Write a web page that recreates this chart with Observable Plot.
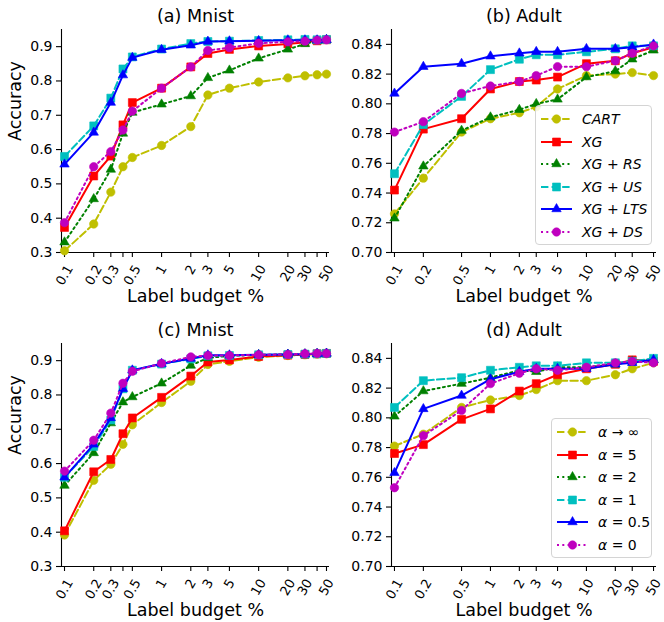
<!DOCTYPE html>
<html><head><meta charset="utf-8">
<script src="https://cdn.jsdelivr.net/npm/d3@7"></script>
<script src="https://cdn.jsdelivr.net/npm/@observablehq/plot@0.6"></script>
<style>
body{margin:0;background:#fff;}
#root{position:relative;width:664px;height:622px;overflow:hidden;font-family:"DejaVu Sans",sans-serif;background:#fff;}
.panel{position:absolute;}
.legend{position:absolute;border:1px solid #d4d4d4;border-radius:4px;background:rgba(255,255,255,0.85);box-sizing:border-box;}
.legend .row{position:absolute;left:0;height:22px;width:100%;}
.legend .row svg{position:absolute;left:4px;top:0;}
.legend .row span.lab{position:absolute;left:46px;top:2px;font-size:14px;line-height:18px;white-space:nowrap;color:#000;}
</style></head><body><div id="root"></div>
<script>
// ---------- data ----------
const budgetsMnist = [0.1, 0.2, 0.3, 0.4, 0.5, 1, 2, 3, 5, 10, 20, 30, 40, 50];
const budgetsAdult = [0.1, 0.2, 0.5, 1, 2, 3, 5, 10, 20, 30, 50];
const tickLabelsMnist = ["0.1", "0.2", "0.3", "", "0.5", "1", "2", "3", "5", "10", "20", "30", "", "50"];
const tickLabelsAdult = ["0.1", "0.2", "0.5", "1", "2", "3", "5", "10", "20", "30", "50"];
const yTicksMnist = [0.3, 0.4, 0.5, 0.6, 0.7, 0.8, 0.9];
const yTicksAdult = [0.70, 0.72, 0.74, 0.76, 0.78, 0.80, 0.82, 0.84];

const methodLabels = ["CART", "XG", "XG + RS", "XG + US", "XG + LTS", "XG + DS"];
const alphaLabels = ["α → ∞", "α = 5", "α = 2", "α = 1", "α = 0.5", "α = 0"];

// (a) Mnist, methods: CART, XG, XG+RS, XG+US, XG+LTS, XG+DS
const mnistMethods = [
  [0.305, 0.383, 0.476, 0.550, 0.577, 0.612, 0.667, 0.759, 0.779, 0.797, 0.809, 0.815, 0.818, 0.820],
  [0.373, 0.523, 0.581, 0.672, 0.737, 0.779, 0.841, 0.880, 0.892, 0.902, 0.908, 0.913, 0.917, 0.920],
  [0.330, 0.456, 0.542, 0.647, 0.708, 0.732, 0.756, 0.809, 0.831, 0.866, 0.892, 0.908, 0.917, 0.920],
  [0.580, 0.669, 0.750, 0.835, 0.870, 0.893, 0.909, 0.915, 0.916, 0.918, 0.920, 0.921, 0.920, 0.921],
  [0.557, 0.650, 0.737, 0.817, 0.868, 0.891, 0.904, 0.915, 0.916, 0.917, 0.919, 0.919, 0.919, 0.920],
  [0.387, 0.550, 0.594, 0.657, 0.712, 0.779, 0.841, 0.889, 0.897, 0.910, 0.914, 0.916, 0.919, 0.920]
];
// (b) Adult, methods
const adultMethods = [
  [0.726, 0.750, 0.781, 0.790, 0.794, 0.798, 0.810, 0.819, 0.820, 0.821, 0.819],
  [0.742, 0.783, 0.790, 0.810, 0.815, 0.816, 0.818, 0.827, 0.829, 0.834, 0.838],
  [0.723, 0.758, 0.782, 0.791, 0.796, 0.800, 0.803, 0.818, 0.822, 0.830, 0.836],
  [0.753, 0.786, 0.805, 0.823, 0.830, 0.833, 0.833, 0.835, 0.837, 0.839, 0.839],
  [0.807, 0.825, 0.827, 0.832, 0.834, 0.835, 0.835, 0.837, 0.837, 0.838, 0.840],
  [0.781, 0.788, 0.807, 0.812, 0.815, 0.819, 0.825, 0.825, 0.829, 0.834, 0.839]
];
// (c) Mnist, alpha: inf, 5, 2, 1, 0.5, 0
const mnistAlpha = [
  [0.392, 0.551, 0.598, 0.656, 0.713, 0.778, 0.840, 0.889, 0.898, 0.910, 0.915, 0.917, 0.919, 0.920],
  [0.404, 0.576, 0.612, 0.687, 0.733, 0.793, 0.855, 0.896, 0.902, 0.912, 0.916, 0.918, 0.920, 0.921],
  [0.536, 0.631, 0.718, 0.779, 0.794, 0.834, 0.886, 0.908, 0.914, 0.917, 0.918, 0.919, 0.920, 0.921],
  [0.560, 0.650, 0.727, 0.818, 0.872, 0.890, 0.905, 0.914, 0.915, 0.917, 0.918, 0.919, 0.920, 0.921],
  [0.560, 0.656, 0.733, 0.818, 0.872, 0.891, 0.906, 0.916, 0.916, 0.917, 0.918, 0.919, 0.920, 0.921],
  [0.578, 0.668, 0.747, 0.834, 0.869, 0.892, 0.911, 0.915, 0.915, 0.917, 0.918, 0.920, 0.921, 0.921]
];
// (d) Adult, alpha
const adultAlpha = [
  [0.781, 0.789, 0.807, 0.812, 0.815, 0.819, 0.825, 0.825, 0.829, 0.833, 0.837],
  [0.776, 0.782, 0.799, 0.806, 0.818, 0.823, 0.829, 0.833, 0.836, 0.839, 0.838],
  [0.801, 0.818, 0.823, 0.827, 0.832, 0.831, 0.834, 0.834, 0.836, 0.838, 0.839],
  [0.807, 0.825, 0.827, 0.832, 0.834, 0.835, 0.835, 0.837, 0.837, 0.838, 0.840],
  [0.763, 0.806, 0.815, 0.826, 0.831, 0.833, 0.833, 0.833, 0.836, 0.837, 0.839],
  [0.753, 0.788, 0.805, 0.823, 0.830, 0.833, 0.832, 0.834, 0.837, 0.838, 0.837]
];

// ---------- styles ----------
const seriesColors = ["#bfbf00", "#ff0000", "#008000", "#00bfbf", "#0000ff", "#bf00bf"];
const seriesDash = ["7.4,3.2", null, "2,3.3", "7.4,3.2", null, "2,3.3"];
const seriesSymbols = ["circle", "square", "triangle", "square", "triangle", "circle"];
const seriesR = [4.2, 4.5, 3.5, 4.5, 3.5, 4.2];
const d3Symbols = {circle: d3.symbolCircle, square: d3.symbolSquare, triangle: d3.symbolTriangle};

const pad = 1.074;
const xDomain = [0.1 / pad, 50 * pad];
const H = 308;

function inkWidth(s, f) {
  let w = 0;
  for (const c of s) w += (c === "." ? 0.318 : 0.636);
  return w * f - 0.12 * f;
}

function makePanel({title, budgets, tickLabels, yTicks, yDigits, yDomain, values, ylabel, width, marginLeft, marginRight}) {
  const marks = [
    Plot.ruleX([xDomain[0]], {stroke: "black", strokeWidth: 1.1}),
    Plot.ruleY([yDomain[0]], {stroke: "black", strokeWidth: 1.1}),
    Plot.axisY({ticks: yTicks, tickSize: 5, tickPadding: 4, tickFormat: d3.format(`.${yDigits}f`), fontSize: 14, label: null, strokeWidth: 1.1}),
    Plot.axisX({ticks: budgets, tickSize: 5, tickFormat: () => "", label: null, strokeWidth: 1.1})
  ];
  const f = 13;
  budgets.forEach((b, j) => {
    const lab = tickLabels[j];
    if (!lab) return;
    const w = inkWidth(lab, f);
    const half = (w * Math.sin(Math.PI / 3) + 0.73 * f * 0.5) / 2;
    marks.push(Plot.text([{x: b, t: lab}], {
      x: "x", text: "t", frameAnchor: "bottom", rotate: -60, textAnchor: "middle",
      lineAnchor: "middle", fontSize: f, dy: 12 + half, fill: "black"
    }));
  });
  values.forEach((vals, i) => {
    const data = vals.map((v, j) => ({x: budgets[j], y: v}));
    const lineOpts = {x: "x", y: "y", stroke: seriesColors[i], strokeWidth: 2};
    if (seriesDash[i]) lineOpts.strokeDasharray = seriesDash[i];
    marks.push(Plot.line(data, lineOpts));
    marks.push(Plot.dot(data, {x: "x", y: "y", symbol: seriesSymbols[i], r: seriesR[i], fill: seriesColors[i], stroke: seriesColors[i], strokeWidth: 0.6}));
  });
  marks.push(Plot.text([title], {frameAnchor: "top", lineAnchor: "bottom", dy: -8, fontSize: 17.5, fill: "black"}));
  marks.push(Plot.text(["Label budget %"], {frameAnchor: "bottom", lineAnchor: "bottom", dy: 49, fontSize: 17.5, fill: "black"}));
  if (ylabel) marks.push(Plot.text([ylabel], {frameAnchor: "left", rotate: -90, lineAnchor: "middle", dx: -46.5, fontSize: 17.5, fill: "black"}));
  return Plot.plot({
    width, height: H,
    marginLeft, marginRight, marginTop: 29, marginBottom: 56,
    x: {type: "log", domain: xDomain},
    y: {domain: yDomain},
    style: {fontFamily: "DejaVu Sans", fontSize: "14px", color: "black", background: "transparent", overflow: "visible"},
    marks
  });
}

function labelHTML(lab) {
  let out = "";
  for (const c of lab) {
    if (/[A-Za-zα]/.test(c)) out += `<i>${c}</i>`;
    else if (c === " ") out += " ";
    else out += c;
  }
  return out;
}

function makeLegend(left, top, width, height, labels) {
  const box = document.createElement("div");
  box.className = "legend";
  Object.assign(box.style, {left: left + "px", top: top + "px", width: width + "px", height: height + "px"});
  labels.forEach((lab, i) => {
    const row = document.createElement("div");
    row.className = "row";
    row.style.top = (2 + i * 22.6) + "px";
    const svg = d3.create("svg").attr("width", 34).attr("height", 22);
    const line = svg.append("line").attr("x1", 1).attr("x2", 32).attr("y1", 11).attr("y2", 11)
      .attr("stroke", seriesColors[i]).attr("stroke-width", 2);
    if (seriesDash[i]) line.attr("stroke-dasharray", seriesDash[i]);
    svg.append("path").attr("transform", "translate(16.5,11)")
      .attr("d", d3.symbol(d3Symbols[seriesSymbols[i]], Math.PI * seriesR[i] * seriesR[i])())
      .attr("fill", seriesColors[i]).attr("stroke", seriesColors[i]).attr("stroke-width", 0.6);
    row.appendChild(svg.node());
    const span = document.createElement("span");
    span.className = "lab";
    span.innerHTML = labelHTML(lab);
    row.appendChild(span);
    box.appendChild(row);
  });
  return box;
}

const root = document.getElementById("root");
const panels = [
  {left: 0, top: 0, opts: {title: "(a) Mnist", budgets: budgetsMnist, tickLabels: tickLabelsMnist, yTicks: yTicksMnist, yDigits: 1, yDomain: [0.3, 0.95], values: mnistMethods, ylabel: "Accuracy", width: 330, marginLeft: 61, marginRight: 1}},
  {left: 329, top: 0, opts: {title: "(b) Adult", budgets: budgetsAdult, tickLabels: tickLabelsAdult, yTicks: yTicksAdult, yDigits: 2, yDomain: [0.70, 0.85], values: adultMethods, ylabel: null, width: 335, marginLeft: 62, marginRight: 8}},
  {left: 0, top: 314, opts: {title: "(c) Mnist", budgets: budgetsMnist, tickLabels: tickLabelsMnist, yTicks: yTicksMnist, yDigits: 1, yDomain: [0.3, 0.95], values: mnistAlpha, ylabel: "Accuracy", width: 330, marginLeft: 61, marginRight: 1}},
  {left: 329, top: 314, opts: {title: "(d) Adult", budgets: budgetsAdult, tickLabels: tickLabelsAdult, yTicks: yTicksAdult, yDigits: 2, yDomain: [0.70, 0.85], values: adultAlpha, ylabel: null, width: 335, marginLeft: 62, marginRight: 8}}
];
for (const p of panels) {
  const div = document.createElement("div");
  div.className = "panel";
  div.style.left = p.left + "px";
  div.style.top = p.top + "px";
  div.appendChild(makePanel(p.opts));
  root.appendChild(div);
}
root.appendChild(makeLegend(535, 105, 117, 140, methodLabels));
root.appendChild(makeLegend(551, 418, 101, 140, alphaLabels));
</script>
</body></html>
